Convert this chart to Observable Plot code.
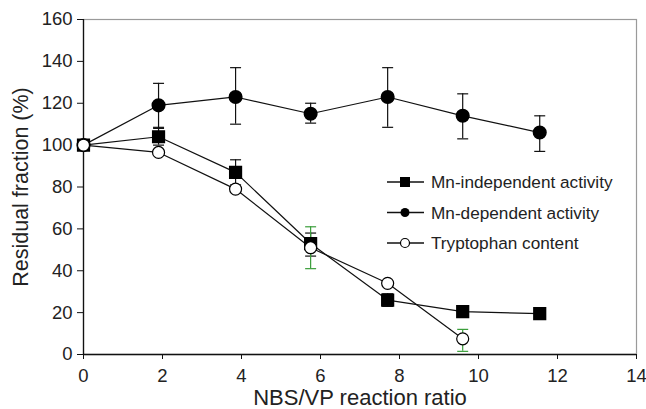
<!DOCTYPE html>
<html>
<head>
<meta charset="utf-8">
<script src="https://cdn.jsdelivr.net/npm/d3@7"></script>
<script src="https://cdn.jsdelivr.net/npm/@observablehq/plot@0.6"></script>
<style>
  html, body { margin: 0; padding: 0; background: #fff; }
  #wrap { position: relative; width: 646px; height: 409px; font-family: "Liberation Sans", Arial, sans-serif; }
  #wrap svg { position: absolute; left: 0; top: 0; }
  #wrap g[aria-label$="tick label"] { font-size: 18.5px; }
</style>
</head>
<body>
<div id="wrap"></div>
<script>
// ---- data ----
const ratios = [0, 1.9, 3.85, 5.75, 7.7, 9.6, 11.55];

const mnIndepY    = [100, 104, 87, 53, 26, 20.5, 19.5];
const mnIndepLo   = [null, 100, 81, 47, 23, null, null];
const mnIndepHi   = [null, 108.5, 93, 58, 29, null, null];

const mnDepY      = [100, 119, 123, 115, 123, 114, 106];
const mnDepLo     = [null, 108, 110, 110.5, 108.5, 103, 97];
const mnDepHi     = [null, 129.5, 137, 120, 137, 124.5, 114];

const tryptoX     = [0, 1.9, 3.85, 5.75, 7.7, 9.6];
const tryptoY     = [100, 96.5, 79, 51, 34, 7.5];
const tryptoLo    = [null, null, null, 41, null, 1.5];
const tryptoHi    = [null, null, null, 61, null, 12];

const seriesNames = ["Mn-independent activity", "Mn-dependent activity", "Tryptophan content"];
const xTicks = [0, 2, 4, 6, 8, 10, 12, 14];
const yTicks = [0, 20, 40, 60, 80, 100, 120, 140, 160];
const xLabel = "NBS/VP reaction ratio";
const yLabel = "Residual fraction (%)";

// ---- build tables ----
const indep = ratios.map((x, i) => ({x, y: mnIndepY[i], lo: mnIndepLo[i], hi: mnIndepHi[i]}));
const dep = ratios.map((x, i) => ({x, y: mnDepY[i], lo: mnDepLo[i], hi: mnDepHi[i]}));
const trp = tryptoX.map((x, i) => ({x, y: tryptoY[i], lo: tryptoLo[i], hi: tryptoHi[i]}));
const withErr = (arr) => arr.filter(d => d.lo != null);

const capSymbol = {
  draw(ctx, size) {
    const w = Math.sqrt(size);
    ctx.moveTo(-w, 0);
    ctx.lineTo(w, 0);
  }
};

function errorMarks(arr, color) {
  const e = withErr(arr);
  return [
    Plot.ruleX(e, {x: "x", y1: "lo", y2: "hi", stroke: color, strokeWidth: 1.2}),
    Plot.dot(e, {x: "x", y: "lo", symbol: capSymbol, r: 3.1, stroke: color, strokeWidth: 1.2, fill: "none"}),
    Plot.dot(e, {x: "x", y: "hi", symbol: capSymbol, r: 3.1, stroke: color, strokeWidth: 1.2, fill: "none"})
  ];
}

const green = "#3a9e3a";
const font = "'Liberation Sans', Arial, sans-serif";

const chart = Plot.plot({
  width: 646,
  height: 409,
  marginLeft: 83,
  marginRight: 10,
  marginTop: 19,
  marginBottom: 55,
  style: {fontFamily: font, fontSize: "18.5px", background: "#fff", color: "#222"},
  x: {domain: [0, 14]},
  y: {domain: [0, 160]},
  marks: [
    Plot.frame({stroke: "#9a9a9a", strokeWidth: 1.2}),
    Plot.ruleX([0], {stroke: "#111", strokeWidth: 1.3}),
    Plot.ruleY([0], {stroke: "#111", strokeWidth: 1.3}),
    Plot.axisY({ticks: yTicks, tickSize: 6, tickPadding: 5, fontSize: "18.5px", label: null, stroke: "#111"}),
    Plot.axisX({ticks: xTicks, tickSize: 5, tickPadding: 9, fontSize: "18.5px", label: null, stroke: "#111"}),
    Plot.text([yLabel], {frameAnchor: "left", textAnchor: "middle", lineAnchor: "middle", rotate: -90, dx: -62, fontSize: "21.5px", fill: "#222"}),
    Plot.text([xLabel], {frameAnchor: "bottom", textAnchor: "middle", lineAnchor: "middle", dy: 43, fontSize: "22px", fill: "#222"}),
    // lines
    Plot.line(dep, {x: "x", y: "y", stroke: "#111", strokeWidth: 1.2}),
    Plot.line(indep, {x: "x", y: "y", stroke: "#111", strokeWidth: 1.2}),
    Plot.line(trp, {x: "x", y: "y", stroke: "#111", strokeWidth: 1.2}),
    // error bars
    ...errorMarks(dep, "#111"),
    ...errorMarks(indep, "#111"),
    ...errorMarks(trp, green),
    // markers
    Plot.dot(dep, {x: "x", y: "y", r: 6.3, fill: "#000", stroke: "#000"}),
    Plot.dot(indep, {x: "x", y: "y", symbol: "square", r: 6.6, fill: "#000", stroke: "#000"}),
    Plot.dot(trp, {x: "x", y: "y", r: 6, fill: "#fff", stroke: "#000", strokeWidth: 1.2})
  ]
});

const wrap = document.getElementById("wrap");
wrap.appendChild(chart);

// ---- legend overlay ----
const leg = d3.select(wrap).append("svg")
  .attr("width", 646).attr("height", 409)
  .style("pointer-events", "none");
const legY0 = 182, legStep = 30.5, lx1 = 387, lx2 = 424, mx = 405, tx = 431;
seriesNames.forEach((name, i) => {
  const y = legY0 + i * legStep;
  leg.append("line").attr("x1", lx1).attr("x2", lx2).attr("y1", y).attr("y2", y)
    .attr("stroke", "#111").attr("stroke-width", 1.3);
  if (i === 0) {
    leg.append("rect").attr("x", mx - 5).attr("y", y - 5).attr("width", 10).attr("height", 10).attr("fill", "#000");
  } else if (i === 1) {
    leg.append("circle").attr("cx", mx).attr("cy", y).attr("r", 4.5).attr("fill", "#000");
  } else {
    leg.append("circle").attr("cx", mx).attr("cy", y).attr("r", 4.5).attr("fill", "#fff").attr("stroke", "#000").attr("stroke-width", 1.2);
  }
  leg.append("text").attr("x", tx).attr("y", y).attr("dy", "0.35em")
    .attr("font-family", font).attr("font-size", "17.2px").attr("fill", "#222").text(name);
});
</script>
</body>
</html>
